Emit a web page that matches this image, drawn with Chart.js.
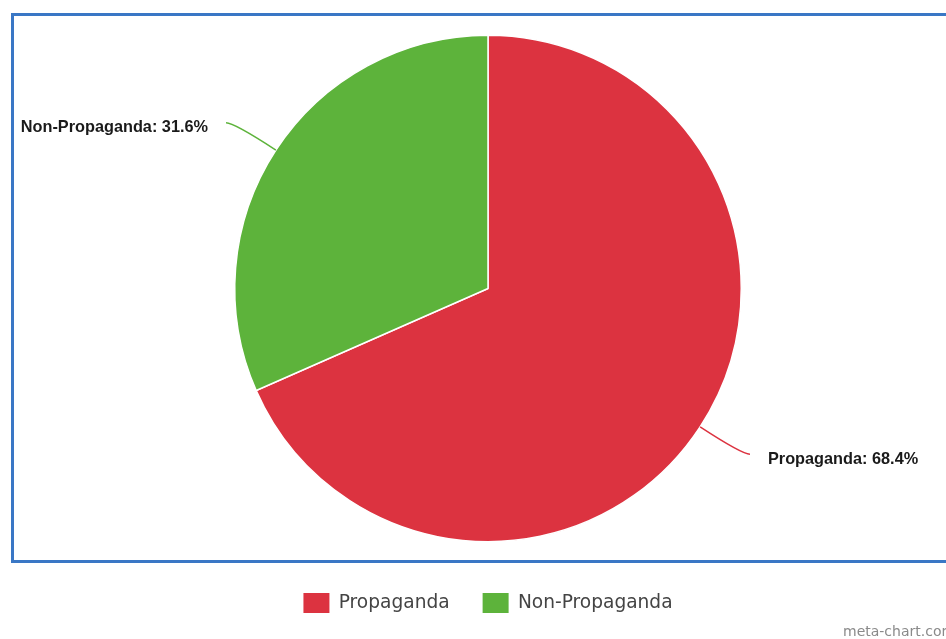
<!DOCTYPE html>
<html>
<head>
<meta charset="utf-8">
<script src="https://cdn.jsdelivr.net/npm/chart.js@4.4.1/dist/chart.umd.min.js"></script>
<style>
    body { margin: 0; background: #fff; overflow: hidden; }
    #wrap { position: relative; width: 946px; height: 639px; }
    #frame {
        position: absolute; left: 11px; top: 13px; width: 980px; height: 544px;
        border: 3px solid #3a77c5;
    }
    #pie { position: absolute; left: 0; top: 0; }
    #credit {
        position: absolute; left: 843px; top: 623px;
        font-family: "DejaVu Sans", sans-serif; font-size: 14px; color: #8a8a8a;
        white-space: nowrap;
    }
</style>
</head>
<body>
<div id="wrap">
    <div id="frame"></div>
    <canvas id="pie" width="946" height="639"></canvas>
    <span id="credit">meta-chart.com</span>
</div>
<script>
const categories = ["Propaganda", "Non-Propaganda"];
const shares = [68.4, 31.6];
const sliceColors = ["#dc3340", "#5db33b"];

// Outside labels with curved leader lines
const outLabels = {
    id: 'outLabels',
    afterDatasetsDraw(chart) {
        const ctx = chart.ctx;
        const arcs = chart.getDatasetMeta(0).data;
        ctx.save();
        arcs.forEach((arc, i) => {
            const mid = (arc.startAngle + arc.endAngle) / 2;
            const r = arc.outerRadius;
            const cos = Math.cos(mid), sin = Math.sin(mid);
            const side = cos >= 0 ? 1 : -1;
            const x0 = arc.x + cos * r, y0 = arc.y + sin * r;
            const cx = arc.x + cos * (r + 50), cy = arc.y + sin * (r + 50);
            const x1 = cx + side * 8, y1 = cy;

            ctx.strokeStyle = sliceColors[i];
            ctx.lineWidth = 1.5;
            ctx.beginPath();
            ctx.moveTo(x0, y0);
            ctx.quadraticCurveTo(cx, cy, x1, y1);
            ctx.stroke();

            ctx.font = 'bold 16.3px "Liberation Sans", Arial, sans-serif';
            ctx.fillStyle = '#1a1a1a';
            ctx.textBaseline = 'middle';
            ctx.textAlign = side > 0 ? 'left' : 'right';
            ctx.fillText(`${categories[i]}: ${shares[i]}%`, x1 + side * 18, y1 + 5);
        });
        ctx.restore();
    }
};

new Chart(document.getElementById('pie').getContext('2d'), {
    type: 'pie',
    data: {
        labels: categories,
        datasets: [{
            data: shares,
            backgroundColor: sliceColors,
            borderColor: '#ffffff',
            borderWidth: 1.5,
            hoverOffset: 0
        }]
    },
    options: {
        responsive: false,
        animation: false,
        layout: { padding: { left: 234, right: 204, top: 17, bottom: 16 } },
        plugins: {
            tooltip: { enabled: false },
            legend: {
                position: 'bottom',
                labels: {
                    boxWidth: 26,
                    boxHeight: 20,
                    padding: 33,
                    color: '#444',
                    font: { family: '"DejaVu Sans", sans-serif', size: 18.6 },
                    generateLabels(chart) {
                        const items = Chart.overrides.pie.plugins.legend.labels.generateLabels(chart);
                        items.forEach(it => { it.lineWidth = 0; });
                        return items;
                    }
                }
            }
        }
    },
    plugins: [outLabels]
});
</script>
</body>
</html>
